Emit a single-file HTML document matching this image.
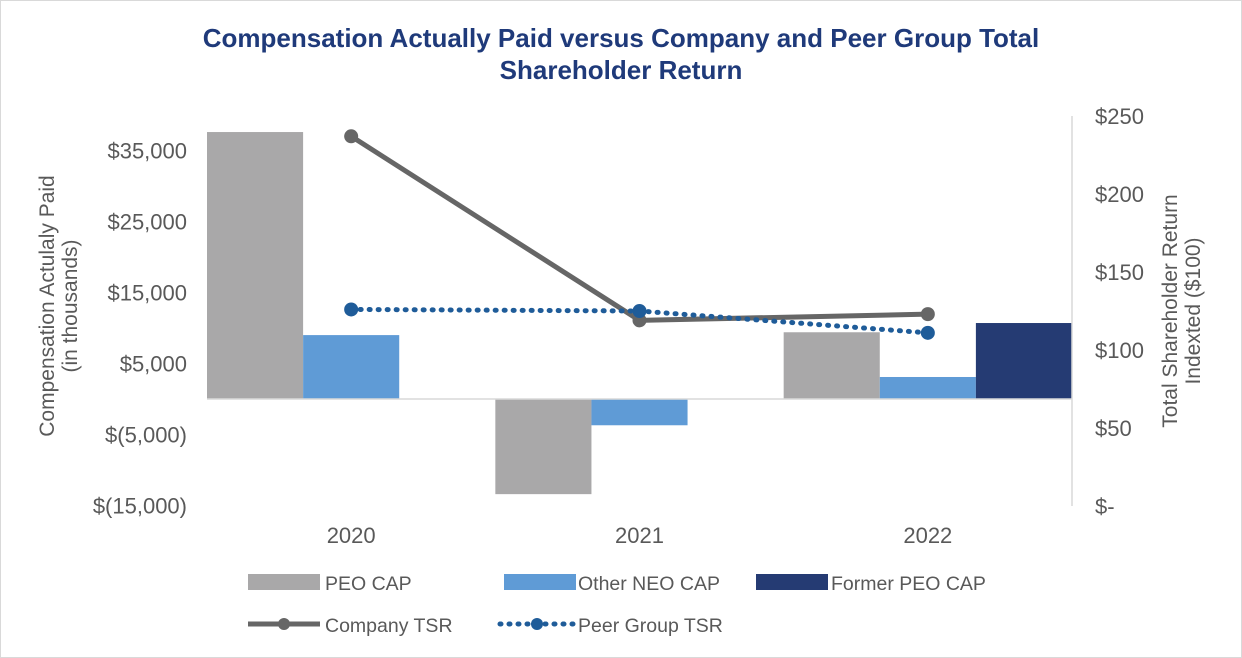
<!DOCTYPE html>
<html><head><meta charset="utf-8"><style>
body{margin:0;background:#fff;}
svg{display:block;font-family:"Liberation Sans",Arial,sans-serif;}
</style></head><body>
<svg id="chart" width="1242" height="658">
<rect x="0.5" y="0.5" width="1241" height="657" fill="#fff" stroke="#d9d9d9"/>
<text x="621" y="47" text-anchor="middle" font-size="26" font-weight="bold" fill="#1f3a7a">Compensation Actually Paid versus Company and Peer Group Total</text>
<text x="621" y="79" text-anchor="middle" font-size="26" font-weight="bold" fill="#1f3a7a">Shareholder Return</text>
<g id="marks"></g>
<text transform="translate(54,306) rotate(-90)" text-anchor="middle" font-size="21" fill="#595959"><tspan x="0" dy="0">Compensation Actulaly Paid</tspan><tspan x="0" dy="23">(in thousands)</tspan></text>
<text transform="translate(1177,311) rotate(-90)" text-anchor="middle" font-size="21" fill="#595959"><tspan x="0" dy="0">Total Shareholder Return</tspan><tspan x="0" dy="23">Indexted ($100)</tspan></text>
<g font-size="19.5" fill="#595959">
<rect x="248" y="574" width="72" height="16" fill="#a9a8a9"/>
<text x="325" y="590">PEO CAP</text>
<rect x="504" y="574" width="72" height="16" fill="#5f9bd6"/>
<text x="578" y="590">Other NEO CAP</text>
<rect x="756" y="574" width="72" height="16" fill="#253b73"/>
<text x="831" y="590">Former PEO CAP</text>
<line x1="248" y1="624" x2="320" y2="624" stroke="#666" stroke-width="5"/>
<circle cx="284" cy="624" r="6" fill="#666"/>
<text x="325" y="632">Company TSR</text>
<line x1="500" y1="624" x2="574" y2="624" stroke="#1f5c99" stroke-width="5" stroke-dasharray="1,8" stroke-linecap="round"/>
<circle cx="537" cy="624" r="6" fill="#1f5c99"/>
<text x="578" y="632">Peer Group TSR</text>
</g>
</svg>
<script>
const categories=["2020","2021","2022"];
const peoCap=[37600,-13400,9400];
const otherNeoCap=[9000,-3700,3100];
const formerPeoCap=[null,null,10700];
const companyTsr=[237,119,123];
const peerTsr=[126,125,111];
const leftTicks=[-15000,-5000,5000,15000,25000,35000];
const leftTickLabels=["$(15,000)","$(5,000)","$5,000","$15,000","$25,000","$35,000"];
const rightTicks=[0,50,100,150,200,250];
const rightTickLabels=["$-","$50","$100","$150","$200","$250"];

const NS="http://www.w3.org/2000/svg";
const g=document.getElementById('marks');
const plotL=207,plotR=1072,catW=(plotR-plotL)/categories.length;
const yL=v=>399-v*0.0071;
const yR=v=>506-v*1.56;
const xC=i=>plotL+catW*(i+0.5);
function mk(t,a){const e=document.createElementNS(NS,t);for(const k in a)e.setAttribute(k,a[k]);g.appendChild(e);return e;}
leftTicks.forEach((v,i)=>{const t=mk('text',{x:187,y:yL(v)+8,'text-anchor':'end','font-size':22,fill:'#595959'});t.textContent=leftTickLabels[i];

});
rightTicks.forEach((v,i)=>{const t=mk('text',{x:1095,y:yR(v)+8,'font-size':22,fill:'#595959'});t.textContent=rightTickLabels[i];

});
categories.forEach((c,i)=>{const t=mk('text',{x:xC(i),y:543,'text-anchor':'middle','font-size':22,fill:'#595959'});t.textContent=c;

});
const bw=catW/3;
const series=[[peoCap,'#a9a8a9','peo-cap'],[otherNeoCap,'#5f9bd6','other-neo-cap'],[formerPeoCap,'#253b73','former-peo-cap']];
categories.forEach((c,i)=>{
  let k=0;
  series.forEach(([arr,col,nm])=>{
    const v=arr[i]; if(v==null)return;
    const x=plotL+catW*i+bw*k; k++;
    const y0=yL(0),y1=yL(v);
    const r=mk('rect',{x:x,y:Math.min(y0,y1),width:bw,height:Math.abs(y1-y0),fill:col});
    
    
  });
});
const zl=mk('line',{x1:plotL,y1:yL(0),x2:plotR,y2:yL(0),stroke:'#d9d9d9','stroke-width':1.5});


const ra=mk('line',{x1:plotR,y1:yR(250),x2:plotR,y2:yR(0),stroke:'#d9d9d9','stroke-width':1.5});


const cp=mk('polyline',{points:companyTsr.map((v,i)=>xC(i)+','+yR(v)).join(' '),fill:'none',stroke:'#666','stroke-width':5});


companyTsr.forEach((v,i)=>{const c=mk('circle',{cx:xC(i),cy:yR(v),r:7,fill:'#666'});

});
const pp=mk('polyline',{points:peerTsr.map((v,i)=>xC(i)+','+yR(v)).join(' '),fill:'none',stroke:'#1f5c99','stroke-width':5,'stroke-dasharray':'1,8','stroke-linecap':'round'});


peerTsr.forEach((v,i)=>{const c=mk('circle',{cx:xC(i),cy:yR(v),r:7,fill:'#1f5c99'});

});
</script>
</body></html>
